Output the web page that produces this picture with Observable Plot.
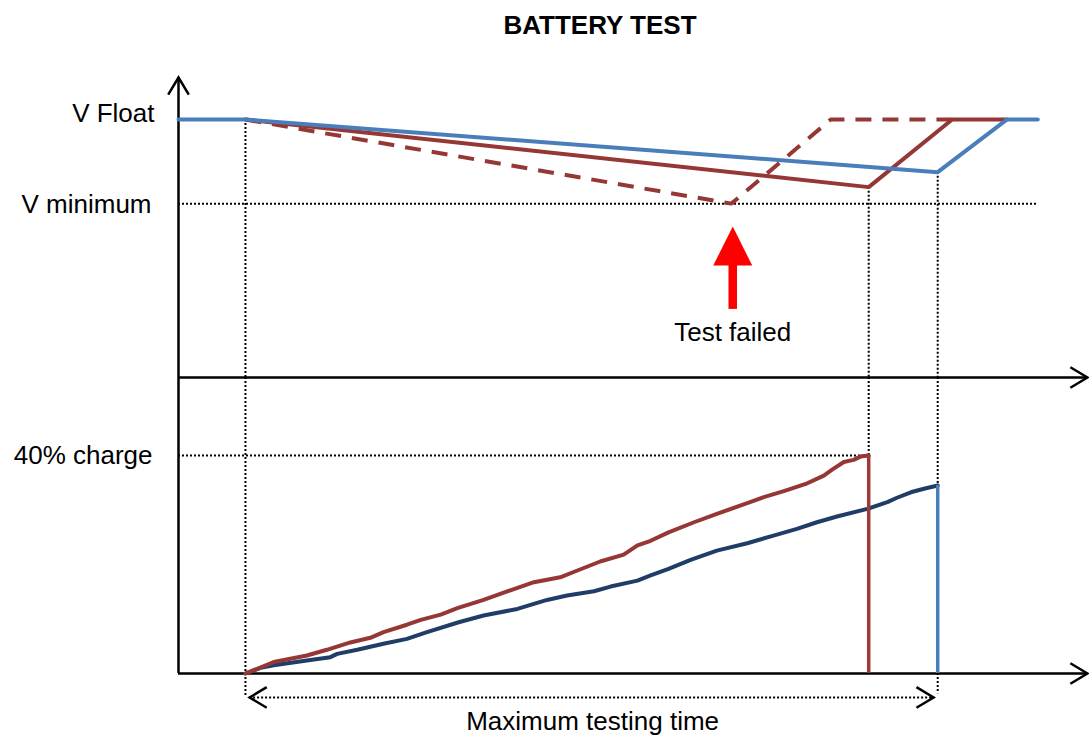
<!DOCTYPE html>
<html><head><meta charset="utf-8">
<script src="https://cdn.jsdelivr.net/npm/d3@7"></script>
<script src="https://cdn.jsdelivr.net/npm/@observablehq/plot@0.6"></script>
<style>
html,body{margin:0;padding:0;background:#fff;overflow:hidden;font-family:"Liberation Sans",Arial,sans-serif;}
#title{height:50px;line-height:50px;font-size:26px;font-weight:bold;text-align:center;padding-left:111px;box-sizing:border-box;width:1089px;color:#000;}
svg{overflow:visible;display:block;}
</style></head><body>
<div id="title">BATTERY TEST</div>
<div id="chart"></div>
<script>
// ---- data (time in arbitrary units, voltage on an arbitrary scale, charge in %) ----
const timeAxisEnd = 131.7;
const testStart = 9.7;
const redEnd = 100;
const maxTime = 110;

const vFloat = 100, vMin = 67.4, vAxisTop = 116.3;
const vMinLineEnd = 124.5;

const blueVT = [0, 9.7, 110, 120, 124.5];
const blueV  = [100, 100, 79.6, 100, 100];
const redVT  = [9.7, 100, 112.1, 120];
const redV   = [100, 73.8, 100, 100];
const dashVT = [9.7, 80.1, 94.5, 112.1];
const dashV  = [100, 67.4, 100, 100];

const failArrow = {t: 80.3, base: 26.4, head: 43.4};

const chargeLevel = 40, chargeAxisTop = 54.3;
const redCT = [9.7,13.8,18.6,21.5,24.9,27.8,29.7,33.1,35.1,38.0,40.4,44.2,48.6,51.5,55.3,57.8,61.1,64.5,66.5,68.4,71.0,74.7,78.0,82.4,84.8,87.7,91.1,93.5,94.7,96.4,97.8,98.8,100];
const redC  = [0,2.1,3.3,4.35,5.7,6.55,7.6,8.95,9.85,10.8,12.0,13.5,15.5,16.75,17.65,18.9,20.55,21.8,23.5,24.35,25.9,27.75,29.3,31.25,32.35,33.45,34.9,36.3,37.4,38.8,39.2,39.8,40];
const blueCT = [9.7,11.9,13.8,18.6,22.0,23.0,25.9,29.7,33.1,36.0,40.6,44.2,49.1,53.4,56.3,60.2,62.6,66.5,68.4,71.0,74.2,78.0,82.4,86.2,89.6,92.5,95.4,99.8,102.7,104.1,106.1,108.0,110];
const blueC  = [0,1.05,1.5,2.4,3.0,3.6,4.35,5.45,6.35,7.6,9.4,10.65,11.85,13.5,14.3,15.1,15.95,17.05,18.0,19.2,20.85,22.55,23.9,25.3,26.55,27.75,28.8,30.2,31.45,32.25,33.25,33.9,34.5];

const maxTestArrow = {t1: 10.3, t2: 109.4, c: -4.4};
const labels = {vFloat: "V Float", vMin: "V minimum", charge: "40% charge", fail: "Test failed", max: "Maximum testing time"};

// ---- helpers ----
const zip = (ts, vs) => ts.map((t, i) => ({t, v: vs[i]}));
const RED = "#953735", BLUE = "#4a7ebb", NAVY = "#1f3d66";
const dotted = {stroke: "black", strokeWidth: 2, strokeDasharray: "2 2", strokeLinecap: "butt"};
const axisStyle = {stroke: "black", strokeWidth: 2.5};
const chevron = {
  draw(ctx, size) {
    const r = Math.sqrt(size / Math.PI), a = 31 * Math.PI / 180;
    const dx = r * Math.sin(a), dy = r * Math.cos(a);
    ctx.moveTo(-dx, dy); ctx.lineTo(0, 0); ctx.lineTo(dx, dy);
  }
};
const triangle = {
  draw(ctx, size) {
    const r = Math.sqrt(size / Math.PI);
    ctx.moveTo(0, -r); ctx.lineTo(r / 2, 0); ctx.lineTo(-r / 2, 0); ctx.closePath();
  }
};
const headOpts = {x: "t", y: "v", symbol: chevron, r: 20, fill: "none", stroke: "black", strokeWidth: 2.5, strokeLinejoin: "miter"};
const svgStyle = {overflow: "visible", background: "transparent", fontFamily: "'Liberation Sans', Arial, sans-serif"};
const X = {domain: [0, timeAxisEnd], axis: null};
const txt = {fontSize: 26, fill: "black"};

// ---- upper panel: voltage ----
const upper = Plot.plot({
  width: 1089, height: 340, marginLeft: 178, marginRight: 2, marginTop: 27, marginBottom: 13,
  style: svgStyle,
  x: X,
  y: {domain: [0, vAxisTop], axis: null},
  marks: [
    Plot.ruleY([{v: vMin}], {y: "v", x1: 0, x2: vMinLineEnd, ...dotted}),
    Plot.ruleX([{t: testStart, v: vFloat}, {t: redEnd, v: redV[1]}, {t: maxTime, v: blueV[2]}], {x: "t", y1: "v", y2: 0, ...dotted}),
    Plot.ruleX([{t: 0}], {x: "t", y1: 0, y2: vAxisTop, ...axisStyle}),
    Plot.ruleY([{v: 0}], {y: "v", x1: 0, x2: timeAxisEnd, ...axisStyle}),
    Plot.dot([{t: 0, v: vAxisTop}], {...headOpts, rotate: 0}),
    Plot.dot([{t: timeAxisEnd, v: 0}], {...headOpts, rotate: 90}),
    Plot.line(zip(dashVT, dashV), {x: "t", y: "v", stroke: RED, strokeWidth: 4, strokeDasharray: "16 11", strokeLinecap: "butt", strokeLinejoin: "miter"}),
    Plot.line(zip(redVT, redV), {x: "t", y: "v", stroke: RED, strokeWidth: 4, strokeLinejoin: "miter"}),
    Plot.line(zip(blueVT, blueV), {x: "t", y: "v", stroke: BLUE, strokeWidth: 4, strokeLinejoin: "miter"}),
    Plot.ruleX([failArrow], {x: "t", y1: "base", y2: d => d.head + 0.6, stroke: "red", strokeWidth: 8.5, strokeLinecap: "butt"}),
    Plot.dot([failArrow], {x: "t", y: "head", symbol: triangle, r: 39, fill: "red", stroke: "none"}),
    Plot.text([{s: labels.vFloat, v: vFloat}], {x: 0, y: "v", text: "s", textAnchor: "end", dx: -24, dy: -6, ...txt}),
    Plot.text([{s: labels.vMin, v: vMin}], {x: 0, y: "v", text: "s", textAnchor: "end", dx: -27, dy: 1, ...txt}),
    Plot.text([{s: labels.fail, t: failArrow.t, v: 17.2}], {x: "t", y: "v", text: "s", ...txt})
  ]
});

// ---- lower panel: charge ----
const lower = Plot.plot({
  width: 1089, height: 345, marginLeft: 178, marginRight: 2, marginTop: 10.5, marginBottom: 62,
  style: svgStyle,
  x: X,
  y: {domain: [0, 50], axis: null},
  marks: [
    Plot.ruleY([{v: chargeLevel}], {y: "v", x1: 0, x2: redEnd, ...dotted}),
    Plot.ruleX([{t: testStart, v: maxTestArrow.c}, {t: redEnd, v: chargeLevel}, {t: maxTime, v: -3.7}], {x: "t", y1: chargeAxisTop, y2: "v", ...dotted}),
    Plot.ruleY([{v: maxTestArrow.c}], {y: "v", x1: maxTestArrow.t1, x2: maxTestArrow.t2, ...dotted}),
    Plot.dot([{t: maxTestArrow.t1, v: maxTestArrow.c}], {...headOpts, rotate: -90}),
    Plot.dot([{t: maxTestArrow.t2, v: maxTestArrow.c}], {...headOpts, rotate: 90}),
    Plot.ruleX([{t: 0}], {x: "t", y1: 0, y2: chargeAxisTop, ...axisStyle}),
    Plot.ruleY([{v: 0}], {y: "v", x1: 0, x2: timeAxisEnd, ...axisStyle}),
    Plot.dot([{t: timeAxisEnd, v: 0}], {...headOpts, rotate: 90}),
    Plot.line(zip(blueCT, blueC), {x: "t", y: "v", stroke: NAVY, strokeWidth: 4}),
    Plot.line(zip(redCT, redC), {x: "t", y: "v", stroke: RED, strokeWidth: 4}),
    Plot.ruleX([{t: redEnd, v: chargeLevel}], {x: "t", y1: 0, y2: "v", stroke: "#9b3b38", strokeWidth: 3.5}),
    Plot.ruleX([{t: maxTime, v: blueC[blueC.length - 1]}], {x: "t", y1: 0, y2: "v", stroke: BLUE, strokeWidth: 3.5}),
    Plot.text([{s: labels.charge, v: chargeLevel}], {x: 0, y: "v", text: "s", textAnchor: "end", dx: -26, ...txt}),
    Plot.text([{s: labels.max, t: 60, v: -8.75}], {x: "t", y: "v", text: "s", ...txt})
  ]
});

document.getElementById("chart").append(upper, lower);
</script>
</body></html>
